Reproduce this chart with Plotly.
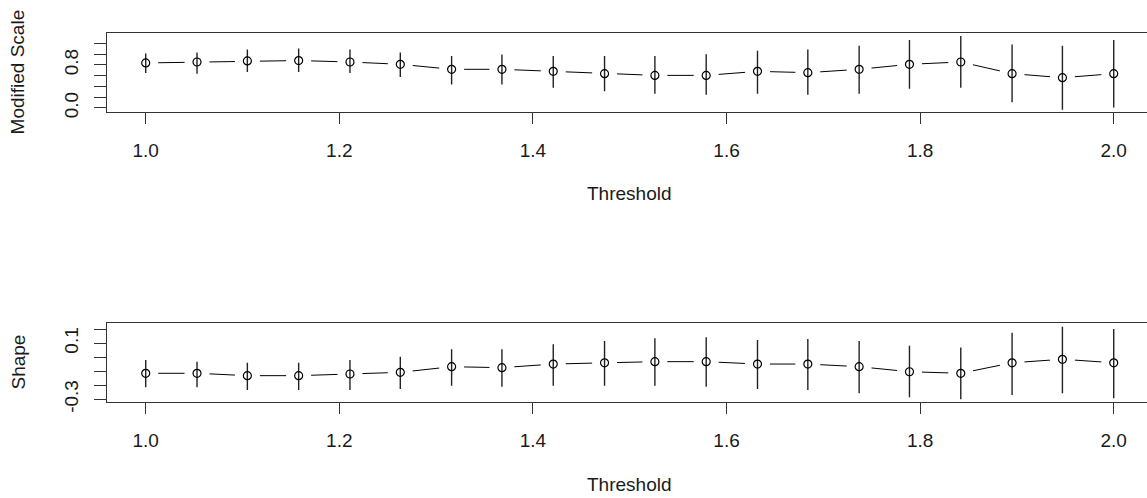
import plotly.graph_objects as go

# ---- data ----
threshold = [1.000, 1.053, 1.105, 1.158, 1.211, 1.263, 1.316, 1.368, 1.421, 1.474,
             1.526, 1.579, 1.632, 1.684, 1.737, 1.789, 1.842, 1.895, 1.947, 2.000]

scale_est = [0.837, 0.855, 0.874, 0.882, 0.855, 0.812, 0.719, 0.719, 0.681, 0.638,
             0.606, 0.606, 0.681, 0.657, 0.719, 0.812, 0.855, 0.638, 0.563, 0.638]
scale_lo = [0.649, 0.638, 0.668, 0.668, 0.649, 0.574, 0.437, 0.437, 0.375, 0.311,
            0.263, 0.244, 0.263, 0.244, 0.263, 0.356, 0.375, 0.105, -0.032, 0.011]
scale_hi = [1.013, 1.032, 1.088, 1.107, 1.088, 1.032, 0.968, 0.994, 0.968, 0.968,
            0.968, 1.000, 1.062, 1.088, 1.156, 1.263, 1.338, 1.182, 1.156, 1.263]

shape_est = [-0.114, -0.114, -0.131, -0.131, -0.119, -0.107, -0.067, -0.074, -0.048, -0.039,
             -0.031, -0.031, -0.048, -0.048, -0.067, -0.103, -0.114, -0.039, -0.014, -0.039]
shape_lo = [-0.214, -0.214, -0.234, -0.234, -0.234, -0.226, -0.203, -0.210, -0.203, -0.203,
            -0.203, -0.210, -0.226, -0.234, -0.257, -0.286, -0.300, -0.269, -0.257, -0.293]
shape_hi = [-0.019, -0.031, -0.039, -0.039, -0.019, 0.004, 0.057, 0.057, 0.093, 0.116,
            0.136, 0.143, 0.124, 0.131, 0.116, 0.083, 0.071, 0.176, 0.219, 0.202]

x_tickvals = [1.0, 1.2, 1.4, 1.6, 1.8, 2.0]
x_ticktext = ["1.0", "1.2", "1.4", "1.6", "1.8", "2.0"]
scale_tickvals = [0.0, 0.2, 0.4, 0.6, 0.8, 1.0, 1.2]
scale_ticktext = ["0.0", "", "", "", "0.8", "", ""]
shape_tickvals = [-0.3, -0.2, -0.1, 0.0, 0.1, 0.2]
shape_ticktext = ["-0.3", "", "", "", "0.1", ""]

W, H = 1147, 498
FONT = "Liberation Sans, Arial, sans-serif"
FS = 19
INK = "#1a1a1a"
AX = "#333333"

fig = go.Figure()


def add_panel(est, lo, hi, xa, ya):
    # connecting line
    fig.add_trace(go.Scatter(x=threshold, y=est, mode="lines",
                             line=dict(color="black", width=1), xaxis=xa, yaxis=ya,
                             hoverinfo="skip", showlegend=False))
    # white mask to create the gaps around points (R type="b")
    fig.add_trace(go.Scatter(x=threshold, y=est, mode="markers",
                             marker=dict(symbol="circle", size=25, color="white", line=dict(width=0)),
                             xaxis=xa, yaxis=ya, hoverinfo="skip", showlegend=False))
    # points with confidence intervals
    fig.add_trace(go.Scatter(
        x=threshold, y=est, mode="markers",
        marker=dict(symbol="circle-open", size=8, color="black", line=dict(width=1.2, color="black")),
        error_y=dict(type="data", symmetric=False,
                     array=[h - e for h, e in zip(hi, est)],
                     arrayminus=[e - l for e, l in zip(est, lo)],
                     width=0, thickness=1.4, color="#222222"),
        xaxis=xa, yaxis=ya, showlegend=False))


add_panel(scale_est, scale_lo, scale_hi, "x", "y")
add_panel(shape_est, shape_lo, shape_hi, "x2", "y2")

ML = 107
plot_w = W - ML
xrange = [0.96, 0.96 + plot_w / 968.0]


def py(p):
    return (H - p) / H


xcommon = dict(range=xrange, showline=True, mirror=True, linecolor=AX, linewidth=1.3,
               ticks="outside", ticklen=11, tickwidth=1.3, tickcolor=AX, automargin=False,
               tickvals=x_tickvals, ticktext=x_ticktext, showgrid=False, zeroline=False,
               tickfont=dict(family=FONT, size=FS, color=INK), ticklabelstandoff=10)
ycommon = dict(showline=True, mirror=False, linecolor=AX, linewidth=1.3, automargin=False,
               ticks="outside", ticklen=12, tickwidth=1.3, tickcolor=AX,
               showgrid=False, zeroline=False, tickangle=-90,
               tickfont=dict(family=FONT, size=FS, color=INK), ticklabelstandoff=8)

fig.update_layout(
    template="none",
    width=W, height=H,
    margin=dict(l=ML, r=0, t=0, b=0, pad=0),
    paper_bgcolor="white", plot_bgcolor="white",
    xaxis=dict(domain=[0, 1], anchor="y", **xcommon),
    yaxis=dict(domain=[py(111.7), py(33)], anchor="x", range=[-0.069, 1.394],
               tickvals=scale_tickvals, ticktext=scale_ticktext, **ycommon),
    xaxis2=dict(domain=[0, 1], anchor="y2", **xcommon),
    yaxis2=dict(domain=[py(401.7), py(323.3)], anchor="x2", range=[-0.317, 0.243],
                tickvals=shape_tickvals, ticktext=shape_ticktext, **ycommon),
    annotations=[
        dict(text="Threshold", xref="x", yref="paper", x=1.5, y=py(193.5),
             showarrow=False, xanchor="center", yanchor="middle",
             font=dict(family=FONT, size=FS, color=INK)),
        dict(text="Threshold", xref="x2", yref="paper", x=1.5, y=py(484.2),
             showarrow=False, xanchor="center", yanchor="middle",
             font=dict(family=FONT, size=FS, color=INK)),
        dict(text="Modified Scale", xref="paper", yref="paper", x=(17 - ML) / plot_w,
             y=py(72.4), textangle=-90, showarrow=False, xanchor="center", yanchor="middle",
             font=dict(family=FONT, size=FS, color=INK)),
        dict(text="Shape", xref="paper", yref="paper", x=(18 - ML) / plot_w,
             y=py(362.5), textangle=-90, showarrow=False, xanchor="center", yanchor="middle",
             font=dict(family=FONT, size=FS, color=INK)),
    ],
)

fig.write_html("out.html")
